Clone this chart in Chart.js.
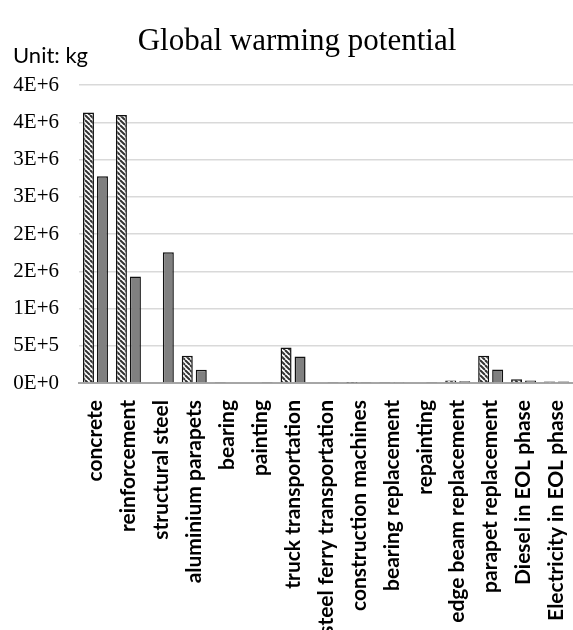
<!DOCTYPE html>
<html>
<head>
<meta charset="utf-8">
<script src="https://cdn.jsdelivr.net/npm/chart.js@4/dist/chart.umd.min.js"></script>
<style>
html,body{margin:0;padding:0;background:#fff;}
#c{display:block;}
</style>
</head>
<body>
<canvas id="c" width="573" height="630"></canvas>
<script>
const categories = [
  "concrete", "reinforcement", "structural steel", "aluminium parapets", "bearing",
  "painting", "truck transportation", "steel ferry transportation", "construction machines",
  "bearing replacement", "repainting", "edge beam replacement", "parapet replacement",
  "Diesel in EOL phase", "Electricity in EOL phase"
];
const hatchedValues = [3630000, 3597000, 0, 366000, 8000, 0, 477000, 0, 5000, 8000, 0, 35000, 366000, 50000, 20000];
const solidValues   = [2775000, 1429000, 1756000, 178000, 10000, 8000, 357000, 8000, 8000, 15000, 8000, 22000, 180000, 35000, 20000];
const yTickValues = [0, 500000, 1000000, 1500000, 2000000, 2500000, 3000000, 3500000, 4000000];
const chartTitle = "Global warming potential";
const unitLabel = "Unit: kg";

function makeHatch() {
  const s = 5;
  const pc = document.createElement('canvas');
  pc.width = s; pc.height = s;
  const g = pc.getContext('2d');
  g.fillStyle = '#ffffff';
  g.fillRect(0, 0, s, s);
  g.strokeStyle = '#333333';
  g.lineWidth = 2;
  for (let k = -1; k <= 1; k++) {
    g.beginPath();
    g.moveTo(k * s, 0);
    g.lineTo(k * s + s, s);
    g.stroke();
  }
  return g.createPattern(pc, 'repeat');
}

const textPlugin = {
  id: 'textPlugin',
  afterDraw(chart) {
    const ctx = chart.ctx;
    ctx.save();
    ctx.fillStyle = '#000';
    ctx.textBaseline = 'alphabetic';
    ctx.textAlign = 'center';
    ctx.font = '31px "Liberation Serif", "Times New Roman", serif';
    ctx.fillText(chartTitle, 297, 50);
    ctx.textAlign = 'left';
    ctx.font = '22px Lato, "Open Sans", sans-serif';
    ctx.fillText(unitLabel, 13, 63);
    ctx.restore();
  }
};

const ctx = document.getElementById('c').getContext('2d');
new Chart(ctx, {
  type: 'bar',
  data: {
    labels: categories,
    datasets: [
      {
        data: hatchedValues,
        backgroundColor: makeHatch(),
        borderColor: '#111',
        borderWidth: 1.5,
        borderSkipped: 'start',
        categoryPercentage: 0.85,
        barPercentage: 0.786
      },
      {
        data: solidValues,
        backgroundColor: '#808080',
        borderColor: '#111',
        borderWidth: 1.5,
        borderSkipped: 'start',
        categoryPercentage: 0.85,
        barPercentage: 0.786
      }
    ]
  },
  options: {
    responsive: false,
    animation: false,
    layout: { padding: { top: 85, right: 0, bottom: 0, left: 0 } },
    plugins: {
      legend: { display: false },
      title: { display: false },
      tooltip: { enabled: false }
    },
    scales: {
      x: {
        grid: { display: false, drawTicks: false },
        border: { display: true, color: '#a6a6a6', width: 2 },
        ticks: {
          autoSkip: false,
          minRotation: 90,
          maxRotation: 90,
          padding: 17,
          color: '#000',
          font: { family: 'Lato, "Open Sans", sans-serif', size: 21, weight: 'bold' }
        },
        afterFit(scale) {
          scale.height = 630 - 383;
          scale.paddingLeft = 0;
          scale.paddingRight = 0;
        }
      },
      y: {
        min: 0,
        max: 4000000,
        afterBuildTicks(scale) { scale.ticks = yTickValues.map(v => ({ value: v })); },
        grid: { color: '#d9d9d9', lineWidth: 1.5, drawTicks: false },
        border: { display: false },
        ticks: {
          padding: 20,
          color: '#000',
          font: { family: '"Liberation Serif", "Times New Roman", serif', size: 21 },
          callback: (v) => Number(v).toExponential(0).toUpperCase()
        },
        afterFit(scale) {
          scale.width = 79;
          scale.paddingTop = 0;
          scale.paddingBottom = 0;
        }
      }
    }
  },
  plugins: [textPlugin]
});
</script>
</body>
</html>
